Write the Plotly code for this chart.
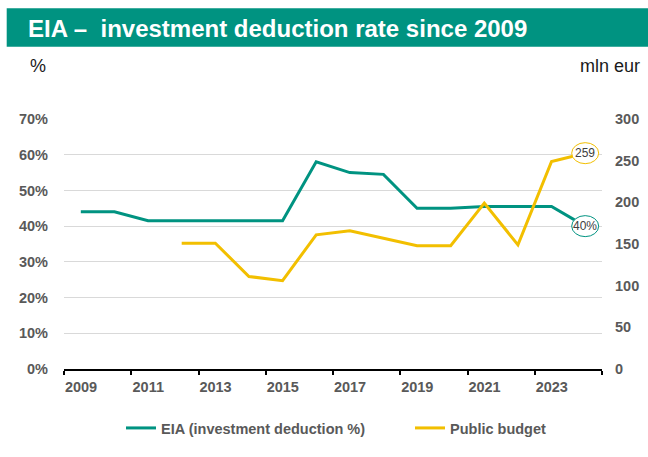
import plotly.graph_objects as go

# ---- data ----
years = list(range(2009, 2025))
eia_rate = [0.44, 0.44, 0.415, 0.415, 0.415, 0.415, 0.415, 0.58, 0.55, 0.545,
            0.45, 0.45, 0.455, 0.455, 0.455, 0.40]
budget_years = list(range(2012, 2025))
public_budget = [151, 151, 111, 106, 161, 166, 157, 148, 148, 199, 149, 249, 259]
x_tick_labels = ["2009", "2011", "2013", "2015", "2017", "2019", "2021", "2023"]
eia_end_label = "40%"
budget_end_label = "259"

# ---- layout geometry ----
W, H = 648, 457
ML, MR, MT, MB = 64, 46, 119, 88
PW, PH = W - ML - MR, H - MT - MB

def px(xp):
    return (xp - ML) / PW

def py(yp):
    return (H - MB - yp) / PH

TEAL = "#009381"
YELLOW = "#F2BF00"
GREY = "#595959"
SANS = "Liberation Sans, Arial, sans-serif"
LBL = dict(family=SANS, size=14.5, color=GREY, weight="bold")

fig = go.Figure()
fig.add_trace(go.Scatter(x=years, y=eia_rate, name="EIA (investment deduction %)",
                         mode="lines", line=dict(color=TEAL, width=3), yaxis="y",
                         legend="legend"))
fig.add_trace(go.Scatter(x=budget_years, y=public_budget, name="Public budget",
                         mode="lines", line=dict(color=YELLOW, width=3), yaxis="y2",
                         legend="legend2"))

tickvals = [y - 0.5 for y in years[::2]] + [years[-1] + 0.5]
ticktext = x_tick_labels + [""]
cat_px = PW / len(years)

leg_common = dict(orientation="h", xanchor="left", y=py(428), yanchor="middle",
                  font=LBL, bgcolor="rgba(0,0,0,0)")

fig.update_layout(
    width=W, height=H,
    margin=dict(l=ML, r=MR, t=MT, b=MB, autoexpand=False),
    paper_bgcolor="white", plot_bgcolor="white",
    showlegend=True,
    legend=dict(x=px(121), **leg_common),
    legend2=dict(x=px(410), **leg_common),
    xaxis=dict(range=[years[0] - 0.5, years[-1] + 0.5], tickmode="array",
               tickvals=tickvals, ticktext=ticktext, ticklabelshift=int(round(cat_px / 2)),
               ticks="outside", ticklen=4, tickwidth=1.5, tickcolor="black",
               showline=True, linecolor="black", linewidth=1.5, showgrid=False,
               zeroline=False, ticklabelstandoff=0, tickfont=LBL),
    yaxis=dict(range=[0, 0.70], dtick=0.1, tickformat=".0%", showgrid=True,
               gridcolor="#d9d9d9", gridwidth=1, zeroline=False, showline=False,
               ticks="", ticklabelstandoff=15, tickfont=LBL),
    yaxis2=dict(range=[0, 300], dtick=50, overlaying="y", side="right", showgrid=False,
                zeroline=False, showline=False, ticks="", ticklabelstandoff=12,
                tickfont=LBL),
)

# title bar
fig.add_shape(type="rect", xref="paper", yref="paper",
              x0=px(6.7), x1=px(648), y0=py(46.7), y1=py(8.3),
              fillcolor="#009381", line=dict(width=0), layer="above")
fig.add_annotation(xref="paper", yref="paper", x=px(26), y=py(28.5), xanchor="left",
                   yanchor="middle", showarrow=False,
                   text="<b>EIA –  investment deduction rate since 2009</b>",
                   font=dict(family=SANS, size=24, color="white"))
# unit labels
fig.add_annotation(xref="paper", yref="paper", x=px(28), y=py(66), xanchor="left",
                   yanchor="middle", showarrow=False, text="%",
                   font=dict(family=SANS, size=18, color="#1a1a1a"))
fig.add_annotation(xref="paper", yref="paper", x=px(642), y=py(66), xanchor="right",
                   yanchor="middle", showarrow=False, text="mln eur",
                   font=dict(family=SANS, size=18, color="#1a1a1a"))

# end labels
for yref, xv, yv, txt, col in [("y", years[-1], eia_rate[-1], eia_end_label, TEAL),
                               ("y2", budget_years[-1], public_budget[-1], budget_end_label, YELLOW)]:
    fig.add_shape(type="circle", xref="x", yref=yref, xsizemode="pixel", ysizemode="pixel",
                  xanchor=xv, yanchor=yv, x0=-13.5, x1=13.5, y0=-10.5, y1=10.5,
                  fillcolor="white", line=dict(color=col, width=1), layer="above")
    fig.add_annotation(xref="x", yref=yref, x=xv, y=yv, text=txt, showarrow=False,
                       font=dict(family=SANS, size=12, color="#404040"))

fig.write_html("out.html")
